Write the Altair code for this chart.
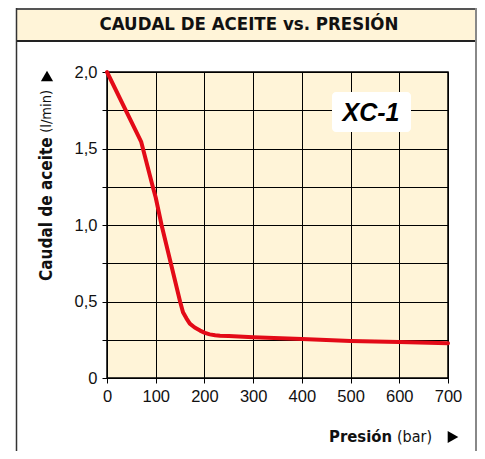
import altair as alt
import pandas as pd

# Data
pressure = [0, 70, 94, 100, 112, 131, 150, 156, 163, 170, 180, 191, 201, 211, 222, 232, 250, 300, 400, 500, 600, 700]
flow = [2.0, 1.545, 1.25, 1.18, 1.0, 0.75, 0.50, 0.43, 0.39, 0.355, 0.33, 0.31, 0.295, 0.285, 0.279, 0.276, 0.274, 0.266, 0.255, 0.242, 0.235, 0.227]

x_ticks = [0, 100, 200, 300, 400, 500, 600, 700]
y_ticks = [0, 0.25, 0.5, 0.75, 1.0, 1.25, 1.5, 1.75, 2.0]

title_text = "CAUDAL DE ACEITE vs. PRESIÓN"
model_label = "XC-1"

df = pd.DataFrame({"p": pressure, "q": flow})

W, H = 341, 306
CREAM = "#FFF4D8"
RED = "#E30A17"
NARROW = "DejaVu Sans Condensed, Liberation Sans Narrow, Arial Narrow, sans-serif"
SANS = "Liberation Sans, Arial, Helvetica, sans-serif"

one = pd.DataFrame({"a": [0]})

line = alt.Chart(df).mark_line(color=RED, strokeWidth=4, strokeJoin="round", strokeCap="round").encode(
    x=alt.X("p:Q", scale=alt.Scale(domain=[0, 700], nice=False),
            axis=alt.Axis(values=x_ticks, title=None, grid=True, gridColor="#000", gridOpacity=1, gridWidth=1,
                          tickColor="#000", tickSize=5, labelFontSize=16.5, labelFont=SANS, labelColor="#111",
                          labelPadding=5, domain=False, labelFlush=False)),
    y=alt.Y("q:Q", scale=alt.Scale(domain=[0, 2], nice=False),
            axis=alt.Axis(values=y_ticks, title=None, grid=True, gridColor="#000", gridOpacity=1, gridWidth=1,
                          tickColor="#000", tickSize=5, labelFontSize=16.5, labelFont=SANS, labelColor="#111",
                          labelPadding=5, domain=False,
                          labelExpr="datum.value == 0 ? '0' : (abs(datum.value*2 - round(datum.value*2)) < 0.001 ? replace(format(datum.value, '.1f'), '.', ',') : '')")),
)

# Frame and title band (pixel decorations)
X0, Y0 = 107, 72  # page position of plot origin
def px(v):
    return v - X0
def py(v):
    return v - Y0

RIGHT = 476
band = alt.Chart(one).mark_rect(fill=CREAM).encode(
    x=alt.value(px(16)), x2=alt.value(px(RIGHT)), y=alt.value(py(8)), y2=alt.value(py(41)))
band_line = alt.Chart(one).mark_rule(color="#222", strokeWidth=2).encode(
    x=alt.value(px(16)), x2=alt.value(px(RIGHT)), y=alt.value(py(41)))
top_line = alt.Chart(one).mark_rule(color="#555", strokeWidth=2).encode(
    x=alt.value(px(16)), x2=alt.value(px(RIGHT)), y=alt.value(py(9)))
left_line = alt.Chart(one).mark_rule(color="#333", strokeWidth=1.5).encode(
    x=alt.value(px(16.5)), y=alt.value(py(8)), y2=alt.value(py(460)))
right_line = alt.Chart(one).mark_rule(color="#888", strokeWidth=2).encode(
    x=alt.value(px(RIGHT)), y=alt.value(py(8)), y2=alt.value(py(460)))

title = alt.Chart(one).mark_text(text=title_text, font=NARROW, fontSize=18.5, fontWeight="bold", color="#111",
                                 align="center", baseline="middle").encode(
    x=alt.value(px(249)), y=alt.value(py(24)))

# XC-1 label box
box = alt.Chart(one).mark_rect(fill="white", cornerRadius=4).encode(
    x=alt.value(px(332)), x2=alt.value(px(411)), y=alt.value(py(92)), y2=alt.value(py(132)))
box_text = alt.Chart(one).mark_text(text=model_label, font=SANS, fontSize=25, fontWeight="bold", fontStyle="italic",
                                    color="#000", align="center", baseline="middle").encode(
    x=alt.value(px(371)), y=alt.value(py(113)))

# Y axis title (rotated): bold part grows up from the bottom, normal part ends at the arrow
y_bold = alt.Chart(one).mark_text(text="Caudal de aceite", font=NARROW, fontSize=17, fontWeight="bold", color="#111",
                                  angle=270, align="left", baseline="middle").encode(
    x=alt.value(px(46.5)), y=alt.value(py(281)))
y_norm = alt.Chart(one).mark_text(text="(l/min)", font=NARROW, fontSize=14.5, color="#111",
                                  angle=270, align="right", baseline="middle").encode(
    x=alt.value(px(46.5)), y=alt.value(py(90)))
y_arrow = alt.Chart(one).mark_point(shape="triangle-up", filled=True, color="#000", size=150, opacity=1).encode(
    x=alt.value(px(47)), y=alt.value(py(76)))

# X axis title
x_bold = alt.Chart(one).mark_text(text="Presión", font=NARROW, fontSize=16.5, fontWeight="bold", color="#111",
                                  align="right", baseline="middle").encode(
    x=alt.value(px(392)), y=alt.value(py(437)))
x_norm = alt.Chart(one).mark_text(text="(bar)", font=NARROW, fontSize=16, color="#111",
                                  align="left", baseline="middle").encode(
    x=alt.value(px(397)), y=alt.value(py(437)))
x_arrow = alt.Chart(one).mark_point(shape="triangle-right", filled=True, color="#000", size=150, opacity=1).encode(
    x=alt.value(px(453)), y=alt.value(py(437)))

chart = alt.layer(
    band, band_line, top_line, left_line, right_line, title,
    line, box, box_text, y_bold, y_norm, y_arrow, x_bold, x_norm, x_arrow
).properties(
    width=W, height=H,
    autosize=alt.AutoSizeParams(type="none"),
    padding={"left": 99, "top": 64, "right": 29, "bottom": 73},
).configure_view(fill=CREAM, stroke="#000", strokeWidth=1.5)

chart.save("out.html", embed_options={"renderer": "svg", "actions": False})
